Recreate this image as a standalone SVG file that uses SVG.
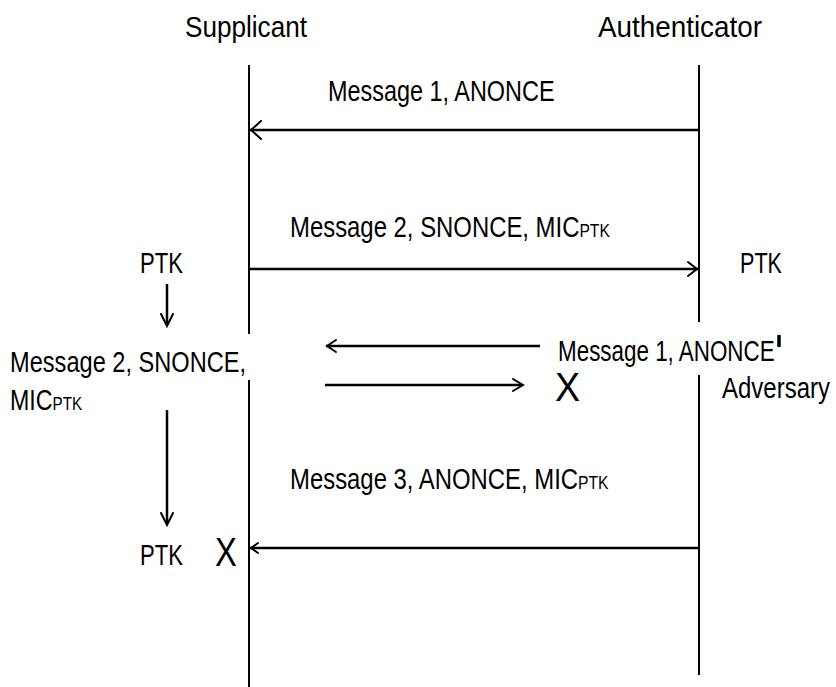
<svg xmlns="http://www.w3.org/2000/svg" width="836" height="687" viewBox="0 0 836 687">
  <style>
    text { font-family: "Liberation Sans", Arial, sans-serif; fill: #000; font-size: 29px; }
    .sub { font-size: 19px; }
    .x { font-size: 40px; }
    .life { stroke: #000; stroke-width: 2; fill: none; }
    .msg { stroke: #000; stroke-width: 2.5; fill: none; }
    .head { stroke: #000; stroke-width: 2; fill: none; stroke-linecap: round; }
  </style>
  <rect width="836" height="687" fill="#fff"/>

  <!-- labels use a horizontally condensed sans: translate to the baseline start, then squeeze -->
  <g id="supplicant">
    <text transform="translate(185,37) scale(0.901,1)">Supplicant</text>
    <line class="life" x1="249" y1="65" x2="249" y2="334"/>
    <line class="life" x1="249" y1="380" x2="249" y2="687"/>
  </g>

  <g id="authenticator">
    <text transform="translate(598,37) scale(0.96,1)">Authenticator</text>
    <line class="life" x1="699" y1="65" x2="699" y2="322"/>
  </g>

  <g id="adversary">
    <text transform="translate(722,398) scale(0.827,1)">Adversary</text>
    <line class="life" x1="699" y1="375" x2="699" y2="675"/>
  </g>

  <g id="supplicant-state">
    <text transform="translate(140,273) scale(0.762,1)">PTK</text>
    <text transform="translate(10,372) scale(0.814,1)">Message 2, SNONCE,</text>
    <text transform="translate(10,410) scale(0.8,1)">MIC<tspan class="sub">PTK</tspan></text>
    <text transform="translate(140,565) scale(0.762,1)">PTK</text>
    <text class="x" transform="translate(215,566) scale(0.82,1)">X</text>
  </g>

  <g id="authenticator-state">
    <text transform="translate(740,273) scale(0.745,1)">PTK</text>
  </g>

  <g id="labels">
    <text transform="translate(328,101) scale(0.808,1)">Message 1, ANONCE</text>
    <text transform="translate(290,237) scale(0.824,1)">Message 2, SNONCE, MIC<tspan class="sub">PTK</tspan></text>
    <text transform="translate(558,361) scale(0.773,1)">Message 1, ANONCE</text>
    <line x1="779" y1="335" x2="779" y2="347" stroke="#000" stroke-width="3.5"/>
    <text class="x" transform="translate(555,401) scale(0.94,1)">X</text>
    <text transform="translate(290,489) scale(0.824,1)">Message 3, ANONCE, MIC<tspan class="sub">PTK</tspan></text>
  </g>

  <g id="connectors">
    <!-- Message 1: authenticator to supplicant -->
    <line class="msg" x1="699" y1="130" x2="250" y2="130"/>
    <polyline class="head" points="261,121 251,130 261,139"/>
    <!-- Message 2: supplicant to authenticator -->
    <line class="msg" x1="249" y1="269" x2="698" y2="269"/>
    <polyline class="head" points="688,262 697,269 688,276"/>
    <!-- local key derivation -->
    <line class="msg" x1="167" y1="284" x2="167" y2="325" stroke-width="2"/>
    <polyline class="head" points="161,314 167,326 173,314"/>
    <!-- forged Message 1 -->
    <line class="msg" x1="326" y1="346" x2="540" y2="346"/>
    <polyline class="head" points="336,340 327,346 336,352"/>
    <!-- replayed Message 2, dropped -->
    <line class="msg" x1="325" y1="385" x2="522" y2="385"/>
    <polyline class="head" points="513,379 523,385 513,391"/>
    <line class="msg" x1="167" y1="410" x2="167" y2="524" stroke-width="2"/>
    <polyline class="head" points="161,513 167,525 173,513"/>
    <!-- Message 3 -->
    <line class="msg" x1="699" y1="548" x2="250" y2="548" stroke-width="3"/>
    <polyline class="head" points="258,543 251,548 258,553"/>
  </g>
</svg>
